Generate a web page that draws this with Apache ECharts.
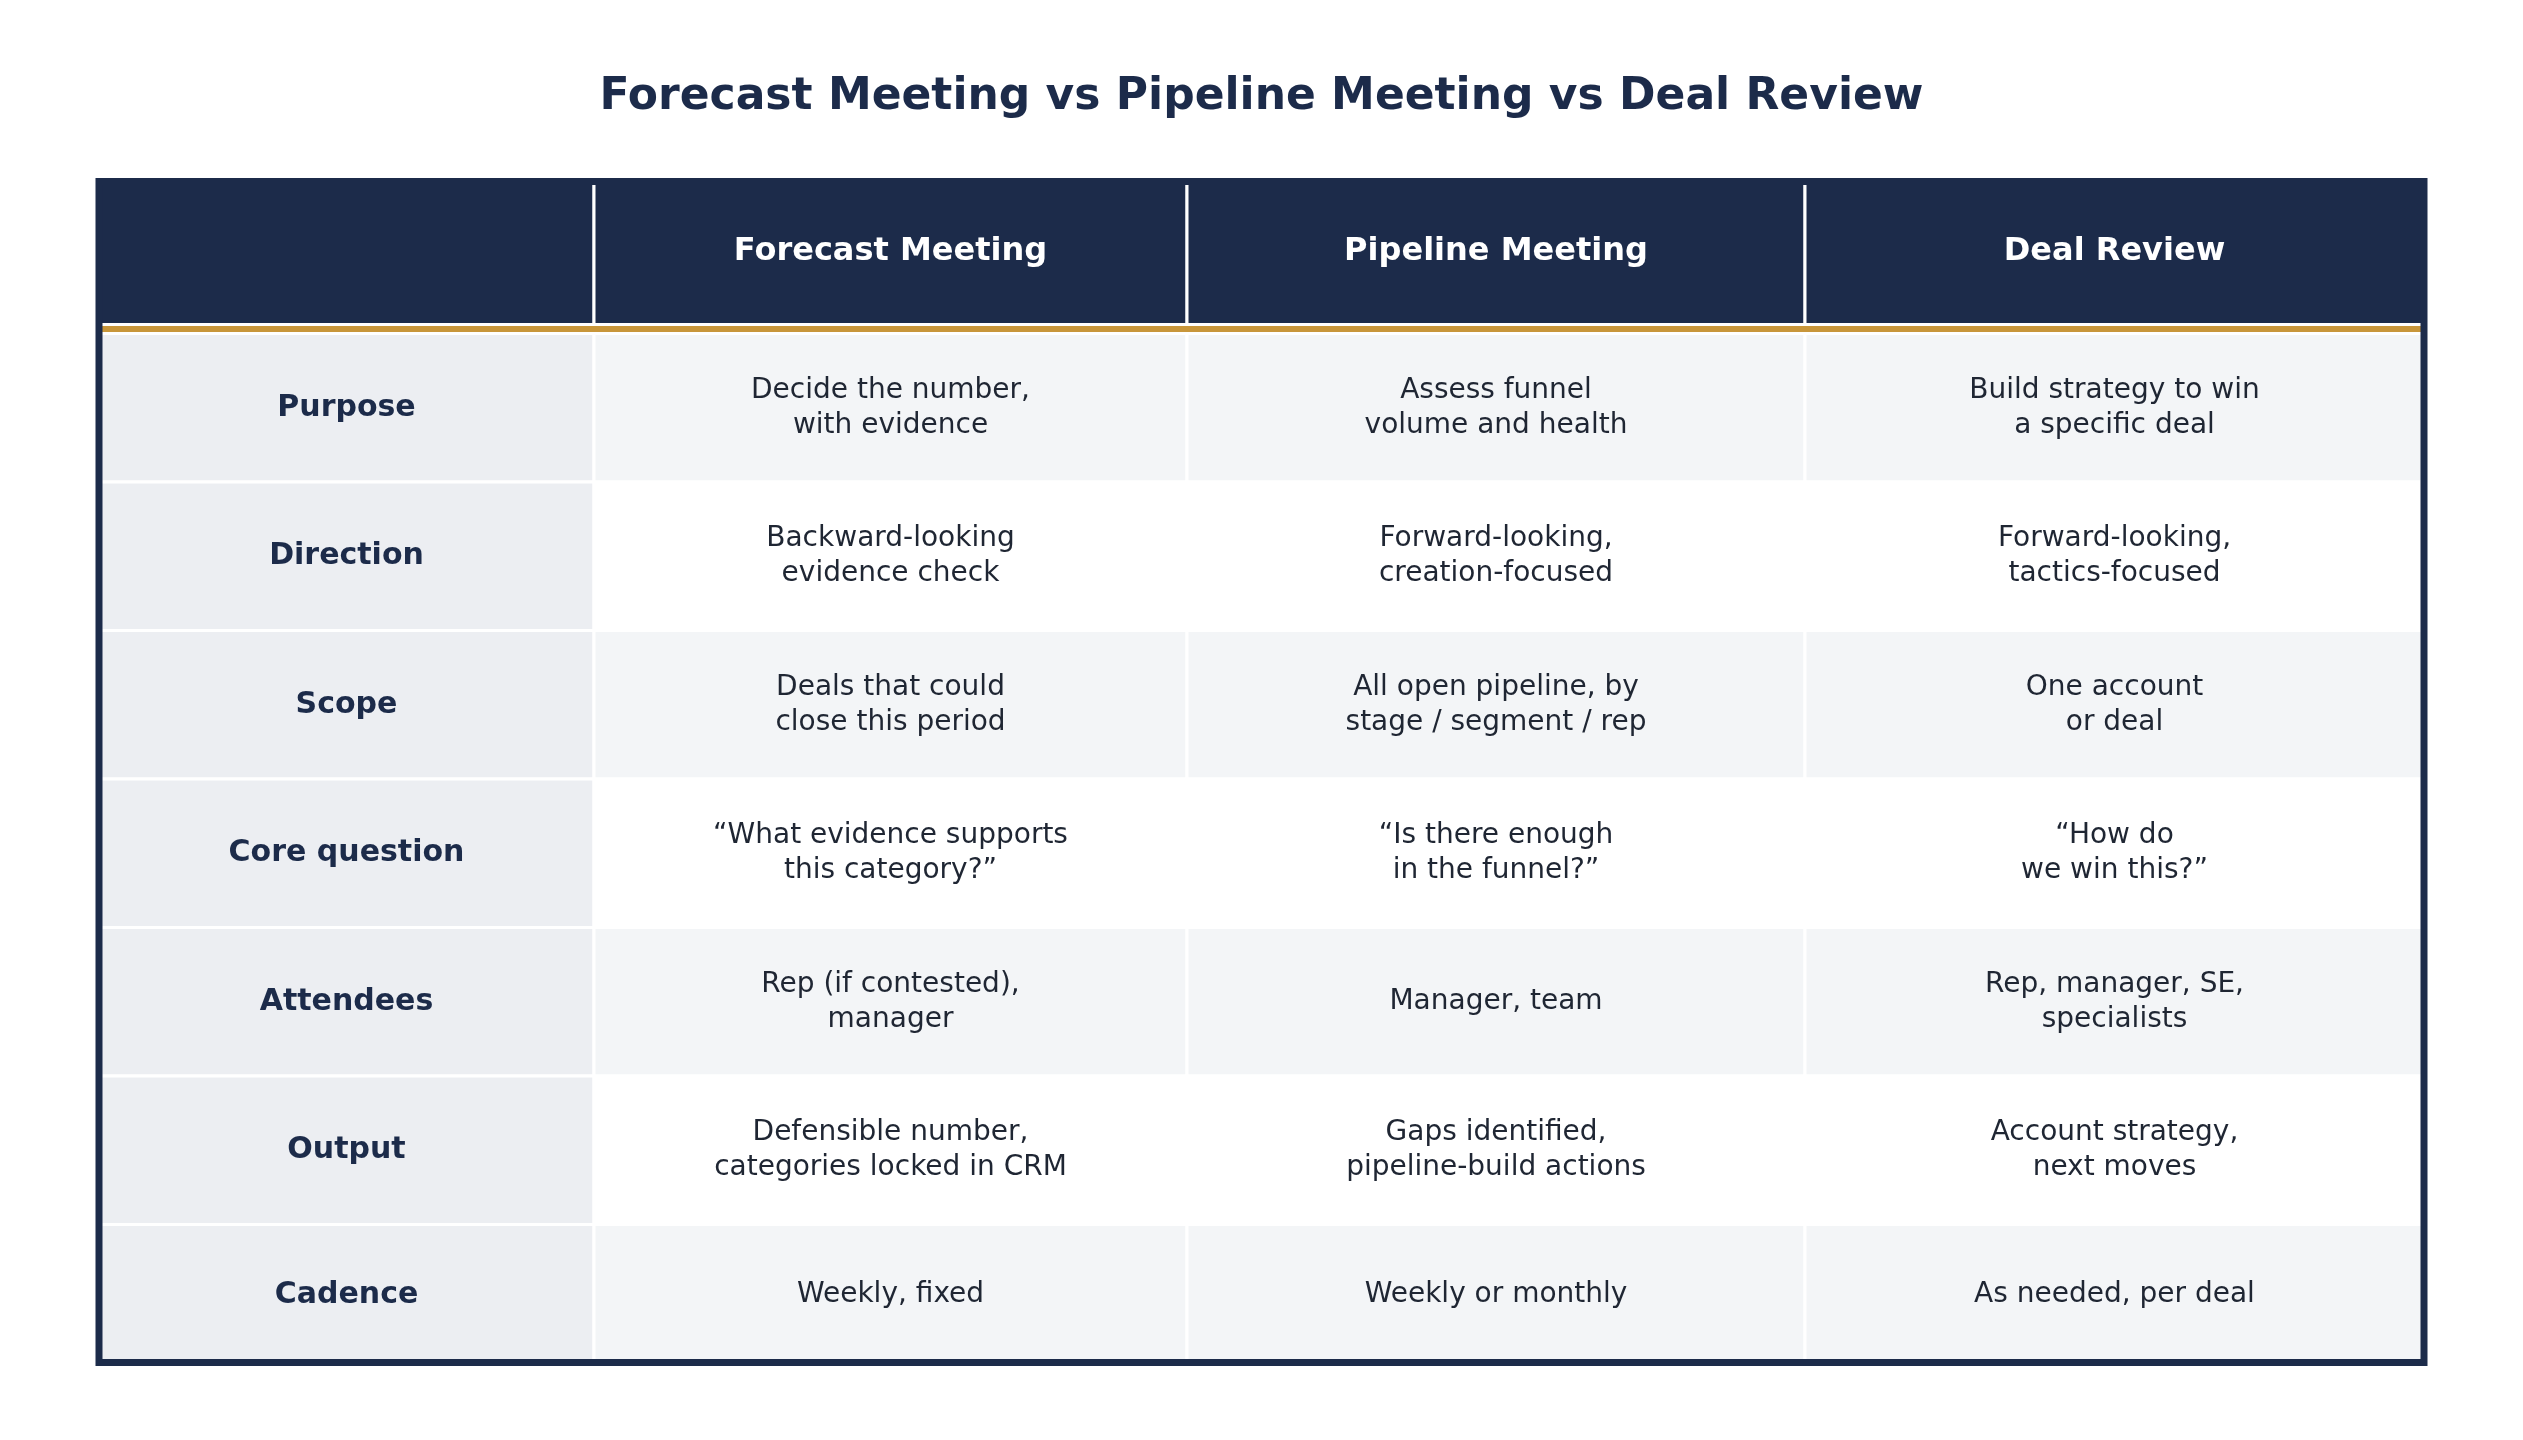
<!DOCTYPE html>
<html>
<head>
<meta charset="utf-8">
<title>Forecast Meeting vs Pipeline Meeting vs Deal Review</title>
<script src="https://cdn.jsdelivr.net/npm/echarts@6/dist/echarts.min.js"></script>
<style>
html, body { margin: 0; padding: 0; background: #ffffff; }
#chart { width: 2523px; height: 1440px; }
</style>
</head>
<body>
<div id="chart"></div>
<script>
var chartTitle = 'Forecast Meeting vs Pipeline Meeting vs Deal Review';
var columns = ['Forecast Meeting', 'Pipeline Meeting', 'Deal Review'];
var rowLabels = ['Purpose', 'Direction', 'Scope', 'Core question', 'Attendees', 'Output', 'Cadence'];

var forecastMeeting = [
	'Decide the number,\nwith evidence',
	'Backward-looking\nevidence check',
	'Deals that could\nclose this period',
	'\u201cWhat evidence supports\nthis category?\u201d',
	'Rep (if contested),\nmanager',
	'Defensible number,\ncategories locked in CRM',
	'Weekly, fixed'
];
var pipelineMeeting = [
	'Assess funnel\nvolume and health',
	'Forward-looking,\ncreation-focused',
	'All open pipeline, by\nstage / segment / rep',
	'\u201cIs there enough\nin the funnel?\u201d',
	'Manager, team',
	'Gaps identified,\npipeline-build actions',
	'Weekly or monthly'
];
var dealReview = [
	'Build strategy to win\na specific deal',
	'Forward-looking,\ntactics-focused',
	'One account\nor deal',
	'\u201cHow do\nwe win this?\u201d',
	'Rep, manager, SE,\nspecialists',
	'Account strategy,\nnext moves',
	'As needed, per deal'
];

// layout / style
var COL_W = [495, 593, 618, 619];
var NAVY = '#1c2b4a';
var GOLD = '#c8963a';
var LABEL_BG = '#eceef2';
var STRIPE_BG = '#f3f5f7';
var TEXT_DARK = '#1f2633';
var FONT = '"DejaVu Sans", "Noto Sans", sans-serif';
var BODY_SHIFT = 7;   // gap for the gold rule under the header

var bodyCols = [forecastMeeting, pipelineMeeting, dealReview];
var nRows = rowLabels.length + 1;

var colEdges = [0];
for (var i = 0; i < COL_W.length; i++) {
	colEdges.push(colEdges[i] + COL_W[i]);
}
var total = colEdges[colEdges.length - 1];

// one datum per cell: [column, row]
var cells = [];
for (var r = 0; r < nRows; r++) {
	for (var c = 0; c <= columns.length; c++) {
		cells.push([c, r]);
	}
}

function cellText(c, r) {
	if (r === 0) return c === 0 ? '' : columns[c - 1];
	if (c === 0) return rowLabels[r - 1];
	return bodyCols[c - 1][r - 1];
}

function renderCell(params, api) {
	var c = api.value(0);
	var r = api.value(1);
	var p0 = api.coord([colEdges[c], r]);
	var p1 = api.coord([colEdges[c + 1], r + 1]);
	var bottom = api.coord([0, nRows])[1];
	var x0 = p0[0], x1 = p1[0], y0 = p0[1], y1 = p1[1];
	if (r > 0) {
		y0 += BODY_SHIFT;
		y1 = Math.min(y1 + BODY_SHIFT, bottom - 1);
	} else {
		y1 -= 2;
	}

	var fill, font, color;
	if (r === 0) {
		fill = NAVY;
		font = 'bold 32px ' + FONT;
		color = '#ffffff';
	} else if (c === 0) {
		fill = LABEL_BG;
		font = 'bold 30px ' + FONT;
		color = NAVY;
	} else {
		fill = (r % 2 === 1) ? STRIPE_BG : '#ffffff';
		font = '28px ' + FONT;
		color = TEXT_DARK;
	}

	return {
		type: 'group',
		children: [{
			type: 'rect',
			shape: { x: x0, y: y0, width: x1 - x0, height: y1 - y0 },
			style: { fill: fill, stroke: '#ffffff', lineWidth: 3 }
		}, {
			type: 'text',
			x: (x0 + x1) / 2,
			y: (y0 + y1) / 2,
			style: {
				text: cellText(c, r),
				font: font,
				fill: color,
				align: 'center',
				verticalAlign: 'middle',
				lineHeight: 35
			}
		}]
	};
}

function renderFrame(params, api) {
	var p0 = api.coord([0, 0]);
	var p1 = api.coord([total, nRows]);
	var ruleY = api.coord([0, 1])[1] + 2.5;
	return {
		type: 'group',
		children: [{
			type: 'line',
			shape: { x1: p0[0], y1: ruleY, x2: p1[0], y2: ruleY },
			style: { stroke: GOLD, lineWidth: 6 }
		}, {
			type: 'rect',
			shape: { x: p0[0], y: p0[1] + 3.5, width: p1[0] - p0[0], height: p1[1] - p0[1] - 7 },
			style: { fill: null, stroke: NAVY, lineWidth: 7 }
		}]
	};
}

var myChart = echarts.init(document.getElementById('chart'), null, { renderer: 'canvas' });

var option = {
	animation: false,
	backgroundColor: '#ffffff',
	title: {
		text: chartTitle,
		left: 'center',
		top: 71,
		textStyle: {
			fontSize: 44,
			fontWeight: 'bold',
			color: NAVY,
			fontFamily: FONT
		}
	},
	grid: {
		left: 99,
		top: 178,
		width: total,
		height: 1188
	},
	xAxis: { type: 'value', min: 0, max: total, show: false },
	yAxis: { type: 'value', min: 0, max: nRows, inverse: true, show: false },
	series: [{
		type: 'custom',
		renderItem: renderCell,
		data: cells,
		z: 2,
		silent: true
	}, {
		type: 'custom',
		renderItem: renderFrame,
		data: [[0, 0]],
		z: 3,
		silent: true
	}]
};
myChart.setOption(option);
</script>
</body>
</html>
